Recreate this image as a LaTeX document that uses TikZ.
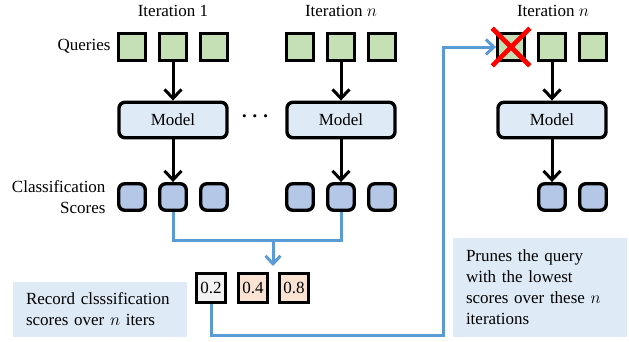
\documentclass[tikz,border=0pt]{standalone}
\usepackage{fontspec}
\setmainfont{Liberation Serif}
\usetikzlibrary{arrows.meta,shapes.misc}

\definecolor{querygreen}{HTML}{C5E0B4}
\definecolor{modelblue}{HTML}{DEEBF7}
\definecolor{scoreblue}{HTML}{B4C7E7}
\definecolor{lineblue}{HTML}{5B9BD5}
\definecolor{valgray}{HTML}{F2F2F2}
\definecolor{valpeach}{HTML}{FBE3D3}

\begin{document}
\begin{tikzpicture}[x=1pt, y=-1pt,
  every node/.style={font=\fontsize{17}{21}\selectfont},
  query/.style={draw, fill=querygreen, line width=3.4pt, minimum size=26.5pt, inner sep=0pt},
  model/.style={draw, fill=modelblue, line width=3.4pt, rounded corners=6pt,
    minimum width=108pt, minimum height=35.5pt},
  score/.style={draw, fill=scoreblue, line width=3.4pt, rounded corners=6pt,
    minimum size=26.5pt, inner sep=0pt},
  value/.style={draw, line width=2.6pt, minimum size=28.5pt, inner sep=0pt},
  note/.style={fill=modelblue, align=left, inner xsep=13pt, text width=148pt},
  flow/.style={-{Straight Barb[length=9pt,width=17pt]}, line width=3pt},
  track/.style={draw=lineblue, line width=3pt},
  trackarrow/.style={track, -{Straight Barb[length=8pt,width=15pt]}}]

  \useasboundingbox (0,0) rectangle (629,341);

  % Iteration 1
  \node (it1) at (173,11) {Iteration 1};
  \node[anchor=east] (qlabel) at (114,46) {Queries};
  \node[query] (q11) at (132,47) {};
  \node[query] (q12) at (173,47) {};
  \node[query] (q13) at (214,47) {};
  \node[model] (m1) at (173,120) {Model};
  \node[anchor=east, align=right] (slabel) at (109,197) {Classification\\Scores};
  \node[score] (s11) at (132,197) {};
  \node[score] (s12) at (173,197) {};
  \node[score] (s13) at (214,197) {};
  \draw[flow] (q12) -- (m1);
  \draw[flow] (m1) -- (s12);

  \node[font=\fontsize{22}{22}\selectfont\boldmath] (dots) at (255,117) {$\cdots$};

  % Iteration n
  \node (itn) at (341,11) {Iteration $n$};
  \node[query] (qn1) at (300,47) {};
  \node[query] (qn2) at (341,47) {};
  \node[query] (qn3) at (382,47) {};
  \node[model] (mn) at (341,120) {Model};
  \node[score] (sn1) at (300,197) {};
  \node[score] (sn2) at (341,197) {};
  \node[score] (sn3) at (382,197) {};
  \draw[flow] (qn2) -- (mn);
  \draw[flow] (mn) -- (sn2);

  % recorded scores
  \coordinate (join) at (273,240);
  \coordinate (jointip) at (273,266);
  \draw[track] (s12.south) |- (join) -| (sn2.south);
  \draw[trackarrow] (join) -- (jointip);
  \node[value, fill=valgray] (v1) at (211,288) {0.2};
  \node[value, fill=valpeach] (v2) at (253,288) {0.4};
  \node[value, fill=valpeach] (v3) at (294,288) {0.8};
  \node[note, minimum height=55pt] (record) at (100,309.5)
    {Record clsssification\\scores over $n$ iters};

  % pruned iteration
  \node (itr) at (553,11) {Iteration $n$};
  \node[query] (qr1) at (511,47) {};
  \node[query] (qr2) at (552,47) {};
  \node[query] (qr3) at (593,47) {};
  \node[cross out, draw=red, line width=4.6pt, minimum size=33pt, inner sep=0pt] (cut) at (qr1) {};
  \node[model] (mr) at (552,120) {Model};
  \node[score] (sr2) at (552,197) {};
  \node[score] (sr3) at (593,197) {};
  \draw[flow] (qr2) -- (mr);
  \draw[flow] (mr) -- (sr2);

  \coordinate (bend) at (443,335);
  \draw[trackarrow] (v1.south) |- (bend) |- (qr1.west);
  \node[note, minimum height=99pt] (prune) at (540,287.5)
    {Prunes the query\\with the lowest\\scores over these $n$\\iterations};
\end{tikzpicture}
\end{document}
